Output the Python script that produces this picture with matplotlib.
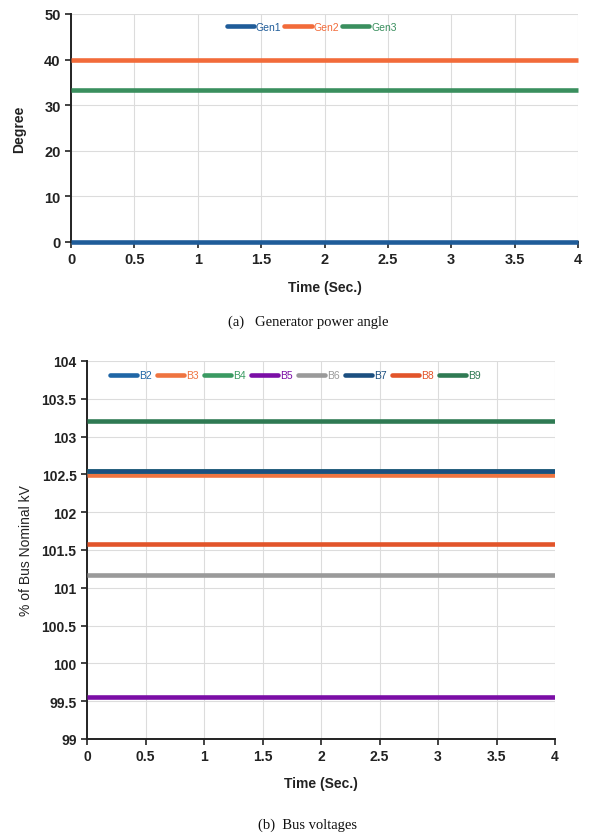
import matplotlib
matplotlib.use("Agg")
import matplotlib.pyplot as plt

# ---- data ----
time = [0.0, 4.0]

gen_names = ["Gen1", "Gen2", "Gen3"]
gen1 = [0.0, 0.0]
gen2 = [39.9, 39.9]
gen3 = [33.4, 33.4]
gen_colors = ["#1f5c99", "#f26b3a", "#3a8f5e"]

bus_names = ["B2", "B3", "B4", "B5", "B6", "B7", "B8", "B9"]
b2 = [102.50, 102.50]
b3 = [102.49, 102.49]
b4 = [102.55, 102.55]
b5 = [99.56, 99.56]
b6 = [101.17, 101.17]
b7 = [102.55, 102.55]
b8 = [101.58, 101.58]
b9 = [103.21, 103.21]
bus_colors = ["#1f66a6", "#ef7440", "#3a9a62", "#7b0ea6", "#9a9a9a",
              "#1b4f80", "#e2542a", "#2f7a53"]

x_ticks = [0, 0.5, 1, 1.5, 2, 2.5, 3, 3.5, 4]
x_ticklabels = ["0", "0.5", "1", "1.5", "2", "2.5", "3", "3.5", "4"]
gen_yticks = [0, 10, 20, 30, 40, 50]
bus_yticks = [99, 99.5, 100, 100.5, 101, 101.5, 102, 102.5, 103, 103.5, 104]
bus_yticklabels = ["99", "99.5", "100", "100.5", "101", "101.5", "102",
                   "102.5", "103", "103.5", "104"]

plt.rcParams['font.family'] = ['Liberation Sans', 'DejaVu Sans']

fig = plt.figure(figsize=(6.16, 8.37), dpi=100)

def style(ax, size, weight):
    ax.grid(True, color="#dcdcdc", lw=0.8)
    ax.set_axisbelow(True)
    for s in ["top", "right"]:
        ax.spines[s].set_visible(False)
    for s in ["left", "bottom"]:
        ax.spines[s].set_color("#222222")
        ax.spines[s].set_linewidth(1.4)
    ax.tick_params(axis="both", direction="out", length=4, width=1.2,
                   colors="#222222", labelsize=size)
    for lab in ax.get_xticklabels() + ax.get_yticklabels():
        lab.set_fontweight(weight)

# ---- top panel ----
ax1 = fig.add_axes([71/616, 1-243/837, 507/616, 228/837])
for name, vals, c in zip(gen_names, [gen1, gen2, gen3], gen_colors):
    ax1.plot(time, vals, color=c, lw=3.3, label=name, solid_capstyle="butt",
             clip_on=False, zorder=3)
ax1.set_xlim(0, 4)
ax1.set_ylim(0, 50)
ax1.set_xticks(x_ticks)
ax1.set_xticklabels(x_ticklabels)
ax1.set_yticks(gen_yticks)
style(ax1, 10.5, "bold")
ax1.set_xlabel("Time (Sec.)", fontsize=10, fontweight="bold", color="#222222", labelpad=10)
ax1.set_ylabel("Degree", fontsize=10, fontweight="bold", color="#222222", labelpad=13)
leg1 = ax1.legend(loc="center", bbox_to_anchor=(0.475, 0.943), ncol=3, frameon=False,
                  fontsize=7.5, handlelength=2.6, handletextpad=0.2, columnspacing=0.3,
                  labelcolor="linecolor")
for h in leg1.get_lines():
    h.set_solid_capstyle("round")

fig.text(0.5, 1-322/837, "(a)   Generator power angle", ha="center", va="center",
         fontsize=10.5, family=["Liberation Serif", "DejaVu Serif"], color="#111111")

# ---- bottom panel ----
ax2 = fig.add_axes([87/616, 1-740/837, 468/616, 378/837])
for name, vals, c in zip(bus_names, [b2, b3, b4, b5, b6, b7, b8, b9], bus_colors):
    ax2.plot(time, vals, color=c, lw=3.3, label=name, solid_capstyle="butt", zorder=3)
ax2.set_xlim(0, 4)
ax2.set_ylim(99, 104)
ax2.set_xticks(x_ticks)
ax2.set_xticklabels(x_ticklabels)
ax2.set_yticks(bus_yticks)
ax2.set_yticklabels(bus_yticklabels)
style(ax2, 10, "bold")
ax2.set_xlabel("Time (Sec.)", fontsize=10, fontweight="bold", color="#222222", labelpad=9)
ax2.set_ylabel("% of Bus Nominal kV", fontsize=10, color="#222222", labelpad=6)
leg2 = ax2.legend(loc="center", bbox_to_anchor=(0.445, 0.962), ncol=8, frameon=False,
                  fontsize=7.5, handlelength=2.6, handletextpad=0.2, columnspacing=0.5,
                  labelcolor="linecolor")
for h in leg2.get_lines():
    h.set_solid_capstyle("round")

fig.text(0.5, 1-825/837, "(b)  Bus voltages", ha="center", va="center",
         fontsize=10.5, family=["Liberation Serif", "DejaVu Serif"], color="#111111")

fig.savefig("out.png", dpi=100)
